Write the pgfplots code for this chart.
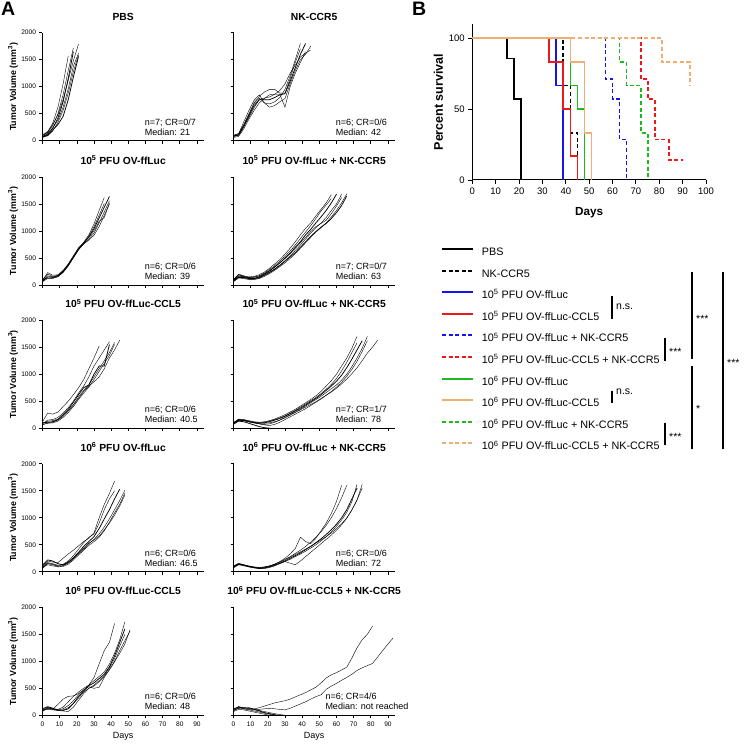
\documentclass[border=0pt]{standalone}
\usepackage{fontspec}
\setmainfont{Liberation Sans}
\usepackage{pgfplots}
\pgfplotsset{compat=1.18}
\definecolor{cblue}{RGB}{20,20,235}
\definecolor{cred}{RGB}{235,25,25}
\definecolor{cgreen}{RGB}{30,185,30}
\definecolor{ctan}{RGB}{238,175,115}
\tikzset{ann/.style={anchor=south west, align=left, inner sep=0pt, font=\fontsize{9}{10}\selectfont},
  sv/.style={line width=1.9pt, line join=miter, line cap=butt},
  svd/.style={line width=1.9pt, dash pattern=on 4pt off 2.6pt}}
\pgfplotsset{
  /pgf/number format/assume math mode=true,
  /pgf/number format/1000 sep={},
  growth/.style={
    scale only axis, width=161.3pt, height=108pt, anchor=south west,
    xmin=0, xmax=94, ymin=0, ymax=2000, clip=false,
    axis x line=bottom, axis y line=left, axis line style={-, line width=0.7pt},
    xtick={0,10,...,90}, ytick={0,500,...,2000},
    tick align=outside, major tick length=3pt, tick style={line width=0.6pt, black},
    tick label style={font=\fontsize{6.6}{7}\selectfont},
    title style={font=\bfseries\fontsize{10.3}{12}\selectfont, at={(0.5,1)}, anchor=base, yshift=6.5pt},
    cycle list={{black, solid, line width=0.75pt, mark=none}},
  },
  leftcol/.style={ylabel={Tumor Volume (mm\textsuperscript{3})}, ylabel style={font=\bfseries\fontsize{8.8}{10}\selectfont, at={(axis description cs:-0.183,0.5)}, anchor=center}},
  rightcol/.style={yticklabels={}},
  nolab/.style={xticklabels={}},
  bottomrow/.style={xlabel={Days}, xlabel style={font=\fontsize{9}{10}\selectfont, at={(axis description cs:0.5,-0.198)}, anchor=center}},
}
\begin{document}
\begin{tikzpicture}
\useasboundingbox (0,0) rectangle (744pt,744pt);
\node[anchor=north west, inner sep=0pt, font=\bfseries\fontsize{19.5}{20}\selectfont] at (1pt,742pt) {A};
\node[anchor=north west, inner sep=0pt, font=\bfseries\fontsize{19.5}{20}\selectfont] at (412pt,742pt) {B};
% ---------- Row 1 ----------
\begin{axis}[growth, leftcol, nolab, at={(42.5pt,603.3pt)}, title={PBS}]
\addplot coordinates {(0,90)(3,160)(6,330)(9,620)(12,1050)(15,1570)};
\addplot coordinates {(0,100)(3,150)(6,280)(9,500)(12,850)(15,1300)(18,1720)};
\addplot coordinates {(0,70)(3,120)(6,230)(9,420)(12,720)(15,1150)(18,1650)};
\addplot coordinates {(0,110)(3,170)(6,300)(9,480)(12,760)(15,1120)(18,1480)(21,1790)};
\addplot coordinates {(0,80)(3,130)(6,240)(9,380)(12,620)(15,960)(18,1380)(21,1620)};
\addplot coordinates {(0,60)(3,90)(6,180)(9,340)(12,560)(15,880)(18,1280)(21,1590)};
\addplot coordinates {(0,70)(3,100)(6,200)(9,300)(12,450)(15,760)(18,1180)(21,1560)};
\node[ann] at (axis cs:59.5,100) {n=7; CR=0/7\\Median: 21};
\end{axis}
\begin{axis}[growth, rightcol, nolab, at={(233.5pt,603.3pt)}, title={NK-CCR5}]
\addplot coordinates {(0,100)(3,130)(6,350)(9,560)(12,750)(15,850)(18,700)(21,680)(24,720)(27,800)(30,950)(33,1200)(36,1500)(39,1800)};
\addplot coordinates {(0,80)(3,120)(6,300)(9,500)(12,700)(15,820)(18,900)(21,950)(24,950)(27,880)(30,880)(33,1150)(36,1450)(39,1700)};
\addplot coordinates {(0,90)(3,100)(6,260)(9,460)(12,650)(15,760)(18,760)(21,760)(24,800)(27,850)(30,870)(33,1100)(36,1350)(39,1600)(42,1800)};
\addplot coordinates {(0,60)(3,80)(6,220)(9,400)(12,560)(15,700)(18,780)(21,850)(24,860)(27,860)(30,620)(33,1000)(36,1250)(39,1450)(42,1650)};
\addplot coordinates {(0,100)(3,130)(6,290)(9,480)(12,690)(15,790)(18,700)(21,620)(24,650)(27,720)(30,780)(33,1050)(36,1300)(39,1500)(42,1600)(45,1750)};
\addplot coordinates {(0,70)(3,110)(6,270)(9,430)(12,610)(15,760)(18,790)(21,810)(24,860)(27,930)(30,1050)(33,1250)(36,1400)(39,1550)(42,1620)(45,1680)};
\node[ann] at (axis cs:59.5,100) {n=6; CR=0/6\\Median: 42};
\end{axis}
% ---------- Row 2 ----------
\begin{axis}[growth, leftcol, nolab, at={(42.5pt,459pt)}, title={10\textsuperscript{5} PFU OV-ffLuc}]
\addplot coordinates {(0,80)(3,230)(6,180)(9,190)(12,270)(15,390)(18,540)(21,690)(24,790)(27,930)(30,1130)(33,1380)(36,1620)};
\addplot coordinates {(0,100)(3,200)(6,160)(9,180)(12,260)(15,380)(18,530)(21,680)(24,780)(27,900)(30,1080)(33,1290)(36,1510)};
\addplot coordinates {(0,70)(3,150)(6,140)(9,170)(12,250)(15,370)(18,520)(21,660)(24,770)(27,890)(30,1040)(33,1240)(36,1440)(39,1640)};
\addplot coordinates {(0,90)(3,130)(6,120)(9,160)(12,240)(15,360)(18,500)(21,650)(24,760)(27,850)(30,960)(33,1150)(36,1350)(39,1560)};
\addplot coordinates {(0,60)(3,120)(6,130)(9,150)(12,230)(15,350)(18,510)(21,670)(24,760)(27,830)(30,920)(33,1080)(36,1290)(39,1500)};
\addplot coordinates {(0,80)(3,170)(6,150)(9,170)(12,250)(15,370)(18,520)(21,660)(24,780)(27,880)(30,1000)(33,1180)(36,1250)(39,1520)};
\node[ann] at (axis cs:59.5,100) {n=6; CR=0/6\\Median: 39};
\end{axis}
\begin{axis}[growth, rightcol, nolab, at={(233.5pt,459pt)}, title={10\textsuperscript{5} PFU OV-ffLuc + NK-CCR5}]
\addplot coordinates {(0,100)(3,200)(6,170)(9,150)(12,160)(15,190)(18,240)(21,310)(24,390)(27,470)(30,570)(33,680)(36,800)(39,930)(42,1050)(45,1150)(48,1280)(51,1400)(54,1520)(57,1670)};
\addplot coordinates {(0,80)(3,170)(6,150)(9,140)(12,150)(15,170)(18,220)(21,290)(24,360)(27,440)(30,530)(33,630)(36,740)(39,860)(42,980)(45,1100)(48,1230)(51,1370)(54,1480)(57,1600)};
\addplot coordinates {(0,90)(3,190)(6,160)(9,130)(12,120)(15,150)(18,200)(21,260)(24,330)(27,410)(30,500)(33,590)(36,700)(39,800)(42,930)(45,1030)(48,1150)(51,1260)(54,1380)(57,1520)(60,1680)};
\addplot coordinates {(0,70)(3,150)(6,130)(9,110)(12,110)(15,130)(18,180)(21,240)(24,300)(27,370)(30,450)(33,540)(36,640)(39,740)(42,850)(45,960)(48,1060)(51,1150)(54,1250)(57,1380)(60,1500)(63,1680)};
\addplot coordinates {(0,100)(3,160)(6,150)(9,140)(12,140)(15,170)(18,210)(21,270)(24,340)(27,410)(30,490)(33,580)(36,680)(39,780)(42,880)(45,990)(48,1080)(51,1140)(54,1200)(57,1320)(60,1460)(63,1620)};
\addplot coordinates {(0,60)(3,130)(6,120)(9,100)(12,100)(15,120)(18,160)(21,210)(24,270)(27,340)(30,410)(33,490)(36,580)(39,680)(42,780)(45,880)(48,980)(51,1060)(54,1150)(57,1260)(60,1380)(63,1520)(66,1690)};
\addplot coordinates {(0,80)(3,140)(6,140)(9,120)(12,120)(15,140)(18,180)(21,230)(24,290)(27,360)(30,440)(33,520)(36,600)(39,700)(42,800)(45,900)(48,990)(51,1070)(54,1140)(57,1230)(60,1340)(63,1470)(66,1650)};
\node[ann] at (axis cs:59.5,100) {n=7; CR=0/7\\Median: 63};
\end{axis}
% ---------- Row 3 ----------
\begin{axis}[growth, leftcol, nolab, at={(42.5pt,315.8pt)}, title={10\textsuperscript{5} PFU OV-ffLuc-CCL5}]
\addplot coordinates {(0,120)(3,280)(6,260)(9,300)(12,400)(15,500)(18,620)(21,750)(24,900)(27,1100)(30,1300)(33,1520)};
\addplot coordinates {(0,80)(3,150)(6,160)(9,200)(12,280)(15,380)(18,500)(21,650)(24,780)(27,950)(30,1150)(33,1300)(36,1450)(39,1600)};
\addplot coordinates {(0,100)(3,110)(6,120)(9,160)(12,250)(15,350)(18,480)(21,620)(24,750)(27,800)(30,1000)(33,1150)(36,1150)(39,1550)};
\addplot coordinates {(0,60)(3,100)(6,110)(9,150)(12,220)(15,320)(18,430)(21,580)(24,700)(27,800)(30,950)(33,1100)(36,1250)(39,1400)(42,1590)};
\addplot coordinates {(0,70)(3,90)(6,100)(9,130)(12,200)(15,290)(18,400)(21,530)(24,650)(27,760)(30,900)(33,1050)(36,1200)(39,1350)(42,1550)};
\addplot coordinates {(0,90)(3,130)(6,140)(9,170)(12,240)(15,330)(18,430)(21,550)(24,680)(27,780)(30,860)(33,950)(36,1100)(39,1300)(42,1450)(45,1630)};
\node[ann] at (axis cs:59.5,100) {n=6; CR=0/6\\Median: 40.5};
\end{axis}
\begin{axis}[growth, rightcol, nolab, at={(233.5pt,315.8pt)}, title={10\textsuperscript{5} PFU OV-ffLuc + NK-CCR5}]
\addplot coordinates {(0,100)(3,170)(6,160)(9,140)(12,120)(15,110)(18,120)(21,140)(24,170)(27,210)(30,250)(33,300)(36,350)(39,410)(42,470)(45,530)(48,600)(51,680)(54,780)(57,880)(60,1000)(63,1150)(66,1300)(69,1480)(72,1700)};
\addplot coordinates {(0,80)(3,150)(6,150)(9,130)(12,110)(15,100)(18,110)(21,130)(24,160)(27,190)(30,230)(33,280)(36,330)(39,390)(42,450)(45,510)(48,570)(51,640)(54,720)(57,810)(60,920)(63,1060)(66,1220)(69,1400)(72,1580)};
\addplot coordinates {(0,90)(3,160)(6,150)(9,120)(12,100)(15,90)(18,100)(21,120)(24,150)(27,180)(30,220)(33,270)(36,320)(39,370)(42,430)(45,490)(48,550)(51,620)(54,700)(57,780)(60,870)(63,980)(66,1120)(69,1280)(72,1450)(75,1620)};
\addplot coordinates {(0,110)(3,150)(6,140)(9,120)(12,100)(15,80)(18,70)(21,80)(24,110)(27,150)(30,200)(33,250)(36,300)(39,350)(42,410)(45,470)(48,530)(51,590)(54,660)(57,730)(60,800)(63,890)(66,1000)(69,1140)(72,1300)(75,1480)(78,1700)};
\addplot coordinates {(0,70)(3,140)(6,140)(9,120)(12,100)(15,80)(18,60)(21,50)(24,70)(27,110)(30,160)(33,210)(36,260)(39,310)(42,360)(45,420)(48,480)(51,540)(54,610)(57,680)(60,760)(63,850)(66,960)(69,1090)(72,1240)(75,1420)(78,1620)};
\addplot coordinates {(0,90)(3,160)(6,140)(9,120)(12,110)(15,100)(18,90)(21,100)(24,120)(27,150)(30,190)(33,240)(36,290)(39,340)(42,390)(45,440)(48,490)(51,550)(54,610)(57,670)(60,740)(63,820)(66,910)(69,1010)(72,1120)(75,1250)(78,1390)(81,1500)(84,1630)};
\addplot coordinates {(0,80)(3,130)(6,120)(9,90)(12,60)(15,30)(18,10)(21,0)};
\node[ann] at (axis cs:59.5,100) {n=7; CR=1/7\\Median: 78};
\end{axis}
% ---------- Row 4 ----------
\begin{axis}[growth, leftcol, nolab, at={(42.5pt,172.2pt)}, title={10\textsuperscript{6} PFU OV-ffLuc}]
\addplot coordinates {(0,100)(3,200)(6,180)(9,170)(12,250)(15,330)(18,400)(21,480)(24,560)(27,620)(30,720)(33,1000)(36,1250)(39,1450)(42,1680)};
\addplot coordinates {(0,80)(3,170)(6,150)(9,120)(12,140)(15,200)(18,300)(21,420)(24,540)(27,640)(30,700)(33,900)(36,1150)(39,1350)(42,1500)};
\addplot coordinates {(0,120)(3,220)(6,200)(9,150)(12,130)(15,180)(18,260)(21,360)(24,470)(27,560)(30,650)(33,800)(36,980)(39,1150)(42,1350)(45,1530)};
\addplot coordinates {(0,60)(3,150)(6,130)(9,100)(12,110)(15,160)(18,240)(21,330)(24,420)(27,520)(30,600)(33,700)(36,830)(39,980)(42,1150)(45,1320)(48,1510)};
\addplot coordinates {(0,90)(3,130)(6,110)(9,90)(12,100)(15,140)(18,220)(21,310)(24,400)(27,490)(30,560)(33,640)(36,760)(39,920)(42,1090)(45,1250)(48,1460)};
\addplot coordinates {(0,70)(3,160)(6,140)(9,110)(12,120)(15,170)(18,250)(21,340)(24,440)(27,530)(30,590)(33,660)(36,780)(39,900)(42,1050)(45,1220)(48,1420)};
\node[ann] at (axis cs:59.5,100) {n=6; CR=0/6\\Median: 46.5};
\end{axis}
\begin{axis}[growth, rightcol, nolab, at={(233.5pt,172.2pt)}, title={10\textsuperscript{6} PFU OV-ffLuc + NK-CCR5}]
\addplot coordinates {(0,100)(3,160)(6,130)(9,100)(12,80)(15,70)(18,80)(21,100)(24,140)(27,190)(30,250)(33,330)(36,430)(39,640)(42,560)(45,520)(48,620)(51,760)(54,900)(57,1080)(60,1300)(63,1600)};
\addplot coordinates {(0,80)(3,150)(6,120)(9,110)(12,90)(15,80)(18,90)(21,110)(24,140)(27,180)(30,230)(33,280)(36,340)(39,400)(42,470)(45,550)(48,640)(51,740)(54,860)(57,1000)(60,1170)(63,1370)(66,1600)};
\addplot coordinates {(0,90)(3,140)(6,130)(9,100)(12,80)(15,60)(18,70)(21,90)(24,120)(27,160)(30,200)(33,250)(36,300)(39,350)(42,410)(45,470)(48,540)(51,610)(54,690)(57,780)(60,880)(63,1000)(66,1150)(69,1350)(72,1550)};
\addplot coordinates {(0,110)(3,150)(6,120)(9,90)(12,70)(15,60)(18,60)(21,80)(24,110)(27,150)(30,190)(33,230)(36,280)(39,330)(42,380)(45,440)(48,500)(51,570)(54,650)(57,740)(60,840)(63,960)(66,1100)(69,1300)(72,1620)};
\addplot coordinates {(0,70)(3,130)(6,110)(9,90)(12,80)(15,70)(18,80)(21,100)(24,130)(27,160)(30,190)(33,160)(36,130)(39,200)(42,280)(45,360)(48,440)(51,520)(54,600)(57,680)(60,770)(63,870)(66,990)(69,1140)(72,1330)(75,1620)};
\addplot coordinates {(0,100)(3,140)(6,120)(9,100)(12,90)(15,80)(18,90)(21,110)(24,140)(27,180)(30,220)(33,270)(36,320)(39,370)(42,420)(45,470)(48,530)(51,590)(54,650)(57,720)(60,800)(63,890)(66,1000)(69,1150)(72,1330)(75,1550)};
\node[ann] at (axis cs:59.5,100) {n=6; CR=0/6\\Median: 72};
\end{axis}
% ---------- Row 5 ----------
\begin{axis}[growth, leftcol, bottomrow, at={(42.5pt,28.7pt)}, title={10\textsuperscript{6} PFU OV-ffLuc-CCL5}]
\addplot coordinates {(0,100)(3,150)(6,120)(9,110)(12,150)(15,250)(18,350)(21,430)(24,500)(27,560)(30,700)(33,950)(36,1200)(39,1350)(42,1700)};
\addplot coordinates {(0,80)(3,130)(6,120)(9,200)(12,300)(15,350)(18,360)(21,400)(24,470)(27,560)(30,640)(33,720)(36,800)(39,950)(42,1150)(45,1400)(48,1730)};
\addplot coordinates {(0,120)(3,160)(6,130)(9,100)(12,90)(15,120)(18,220)(21,350)(24,450)(27,550)(30,600)(33,680)(36,760)(39,900)(42,1100)(45,1350)(48,1600)};
\addplot coordinates {(0,90)(3,120)(6,110)(9,90)(12,80)(15,70)(18,150)(21,280)(24,400)(27,500)(30,560)(33,640)(36,740)(39,880)(42,1050)(45,1280)(48,1500)};
\addplot coordinates {(0,70)(3,140)(6,110)(9,100)(12,120)(15,180)(18,270)(21,380)(24,470)(27,530)(30,500)(33,520)(36,700)(39,850)(42,1000)(45,1200)(48,1380)(51,1560)};
\addplot coordinates {(0,100)(3,110)(6,100)(9,90)(12,100)(15,140)(18,220)(21,320)(24,430)(27,500)(30,540)(33,620)(36,720)(39,840)(42,990)(45,1150)(48,1320)(51,1580)};
\node[ann] at (axis cs:59.5,100) {n=6; CR=0/6\\Median: 48};
\end{axis}
\begin{axis}[growth, rightcol, bottomrow, at={(233.5pt,28.7pt)}, title={10\textsuperscript{6} PFU OV-ffLuc-CCL5 + NK-CCR5}]
\addplot coordinates {(0,100)(3,160)(6,140)(9,130)(12,120)(15,140)(18,170)(21,200)(24,230)(27,250)(30,270)(33,300)(36,340)(39,380)(42,420)(45,470)(48,520)(51,600)(54,690)(57,750)(60,790)(63,840)(66,890)(69,1060)(72,1250)(75,1400)(78,1500)(81,1650)};
\addplot coordinates {(0,80)(3,140)(6,150)(9,120)(12,110)(15,110)(18,120)(21,130)(24,120)(27,110)(30,100)(33,130)(36,170)(39,210)(42,250)(45,300)(48,345)(51,380)(54,480)(57,540)(60,590)(63,650)(66,700)(69,760)(72,830)(75,880)(78,920)(81,960)(84,1080)(87,1200)(90,1320)(93,1430)};
\addplot coordinates {(0,120)(3,150)(6,130)(9,140)(12,110)(15,80)(18,50)(21,30)(24,10)(27,0)};
\addplot coordinates {(0,90)(3,130)(6,120)(9,100)(12,80)(15,60)(18,40)(21,20)(24,0)};
\addplot coordinates {(0,110)(3,160)(6,120)(9,110)(12,100)(15,90)(18,70)(21,50)(24,30)(27,15)(30,0)};
\addplot coordinates {(0,70)(3,110)(6,100)(9,80)(12,60)(15,40)(18,20)(21,0)};
\node[ann] at (axis cs:53.5,100) {n=6; CR=4/6\\Median: not reached};
\end{axis}
% ---------- Panel B ----------
\begin{axis}[
  at={(472.3pt,564pt)}, anchor=south west, scale only axis, width=233.7pt, height=155.9pt,
  xmin=0, xmax=100, ymin=0, ymax=110,
  axis x line=bottom, axis y line=left, axis line style={-, line width=1pt},
  xtick={0,10,...,100}, ytick={0,50,100},
  tick align=outside, major tick length=4pt, tick style={line width=0.9pt, black},
  tick label style={font=\fontsize{9.5}{11}\selectfont},
  xlabel={Days}, xlabel style={font=\bfseries\fontsize{11.7}{13}\selectfont, at={(axis description cs:0.5,-0.212)}, anchor=center},
  ylabel={Percent survival}, ylabel style={font=\bfseries\fontsize{12.5}{14}\selectfont, at={(axis description cs:-0.1455,0.5)}, anchor=center},
  legend style={draw=none, fill=none, at={(-0.1339,-0.4336)}, anchor=north west, inner sep=0pt, outer sep=0pt,
    font=\fontsize{10.8}{12}\selectfont, row sep=11.1pt, column sep=8pt,
    nodes={inner sep=0pt, text height=8pt, text depth=2.5pt}},
  legend cell align=left,
  legend image code/.code={\draw[#1] (0pt,3.8pt) -- (31pt,3.8pt);},
  const plot,
]
\addplot[black, sv, mark=none] coordinates {(0,100)(15,85.71)(18,57.14)(21,0)};
\addlegendentry{PBS}
\addplot[black, svd, mark=none] coordinates {(0,100)(39,66.67)(42,33.33)(45,0)};
\addlegendentry{NK-CCR5}
\addplot[cblue, sv, mark=none] coordinates {(0,100)(36,66.67)(39,0)};
\addlegendentry{10\textsuperscript{5} PFU OV-ffLuc}
\addplot[cred, sv, mark=none] coordinates {(0,100)(33,83.33)(39,50)(42,16.67)(45,0)};
\addlegendentry{10\textsuperscript{5} PFU OV-ffLuc-CCL5}
\addplot[cblue, svd, mark=none] coordinates {(0,100)(57,71.43)(60,57.14)(63,28.57)(66,0)};
\addlegendentry{10\textsuperscript{5} PFU OV-ffLuc + NK-CCR5}
\addplot[cred, svd, mark=none] coordinates {(0,100)(72,71.43)(75,57.14)(78,28.57)(84,14.29)(90,14.29)};
\addlegendentry{10\textsuperscript{5} PFU OV-ffLuc-CCL5 + NK-CCR5}
\addplot[cgreen, sv, mark=none] coordinates {(0,100)(42,66.67)(45,50)(48,0)};
\addlegendentry{10\textsuperscript{6} PFU OV-ffLuc}
\addplot[ctan, sv, mark=none] coordinates {(0,100)(42,83.33)(48,33.33)(51,0)};
\addlegendentry{10\textsuperscript{6} PFU OV-ffLuc-CCL5}
\addplot[cgreen, svd, mark=none] coordinates {(0,100)(63,83.33)(66,66.67)(72,33.33)(75,0)};
\addlegendentry{10\textsuperscript{6} PFU OV-ffLuc + NK-CCR5}
\addplot[ctan, svd, mark=none] coordinates {(0,100)(81,83.33)(93,66.67)};
\addlegendentry{10\textsuperscript{6} PFU OV-ffLuc-CCL5 + NK-CCR5}
\end{axis}
% ---------- significance brackets ----------
\begin{scope}[line width=2pt]
\draw (611.7pt,448pt) -- (611.7pt,425.3pt);
\draw (611.7pt,353.3pt) -- (611.7pt,340.7pt);
\draw (665pt,405.7pt) -- (665pt,383.3pt);
\draw (665pt,321.3pt) -- (665pt,299pt);
\draw (691.7pt,471.7pt) -- (691.7pt,384.7pt);
\draw (691.7pt,378pt) -- (691.7pt,294.7pt);
\draw (723.3pt,471.7pt) -- (723.3pt,294.7pt);
\end{scope}
\begin{scope}[every node/.style={anchor=west, inner sep=0pt, font=\fontsize{10.5}{12}\selectfont}]
\node at (616pt,437.3pt) {n.s.};
\node at (616pt,352pt) {n.s.};
\node at (669pt,392pt) {***};
\node at (669pt,307pt) {***};
\node at (696pt,424.7pt) {***};
\node at (696pt,335.3pt) {*};
\node at (727pt,381.3pt) {***};
\end{scope}
\end{tikzpicture}
\end{document}
